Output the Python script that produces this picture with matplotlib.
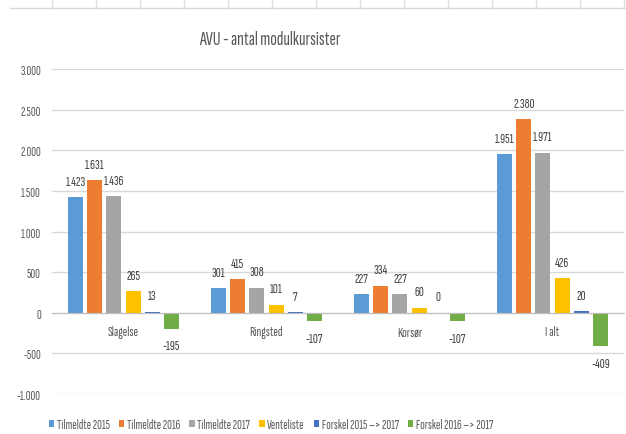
import matplotlib
matplotlib.use("Agg")
import matplotlib.pyplot as plt
from matplotlib.lines import Line2D
import numpy as np

categories = ["Slagelse", "Ringsted", "Korsør", "I alt"]
series_names = ["Tilmeldte 2015", "Tilmeldte 2016", "Tilmeldte 2017",
                "Venteliste", "Forskel 2015 –> 2017", "Forskel 2016 –> 2017"]
tilmeldte_2015 = [1423, 301, 227, 1951]
tilmeldte_2016 = [1631, 415, 334, 2380]
tilmeldte_2017 = [1436, 308, 227, 1971]
venteliste = [265, 101, 60, 426]
forskel_15_17 = [13, 7, 0, 20]
forskel_16_17 = [-195, -107, -107, -409]
yticks = [-1000, -500, 0, 500, 1000, 1500, 2000, 2500, 3000]

colors = ["#5B9BD5", "#ED7D31", "#A5A5A5", "#FFC000", "#4472C4", "#70AD47"]
series = [tilmeldte_2015, tilmeldte_2016, tilmeldte_2017,
          venteliste, forskel_15_17, forskel_16_17]

plt.rcParams["font.family"] = ["Sofia Sans Extra Condensed", "DejaVu Sans"]
plt.rcParams["font.weight"] = "medium"
text_col = "#595959"


def dk(v):
    # danish thousands separator
    return f"{v:,}".replace(",", ".")


fig = plt.figure(figsize=(6.26, 4.35), dpi=100)
ax = fig.add_axes([52 / 626, 1 - 395 / 435, 572 / 626, 325 / 435])

x = np.arange(len(categories))
step = 0.134
for j, (vals, name, col) in enumerate(zip(series, series_names, colors)):
    pos = x + (j - 2.5) * step
    ax.bar(pos, vals, width=0.105, color=col, label=name, zorder=3)
    for px, v in zip(pos, vals):
        off = 11.5 if v >= 0 else -12.5
        ax.annotate(dk(v), (px, v), xytext=(0, off),
                    textcoords="offset points", ha="center", va="center",
                    fontsize=10, color="#404040")

ax.set_xlim(-0.5, len(categories) - 0.5)
ax.set_ylim(-1000, 3000)
ax.set_yticks(yticks)
ax.set_yticklabels([dk(t) for t in yticks])
ax.grid(axis="y", color="#D9D9D9", linewidth=1, zorder=0)
for s in ["top", "right", "left"]:
    ax.spines[s].set_visible(False)
ax.spines["bottom"].set_position(("data", 0))
ax.spines["bottom"].set_color("#BFBFBF")
ax.spines["bottom"].set_zorder(4)
ax.set_xticks(x)
ax.set_xticklabels(categories)
ax.tick_params(axis="x", length=0, pad=9, labelsize=10, labelcolor=text_col)
ax.tick_params(axis="y", length=0, pad=8, labelsize=9.5, labelcolor=text_col)

fig.text(270 / 626, 1 - 40 / 435, "AVU - antal modulkursister",
         ha="center", va="center", fontsize=14, fontweight="semibold", color=text_col)

fig.legend(loc="center", bbox_to_anchor=(271 / 626, 1 - 426 / 435), ncol=6,
           frameon=False, fontsize=9.5, handlelength=0.4, handleheight=0.4,
           handletextpad=0.2, columnspacing=0.7, labelcolor=text_col,
           borderaxespad=0, borderpad=0)

# spreadsheet cell borders at the top
fig.add_artist(Line2D([10 / 626, 1], [1 - 9 / 435] * 2, color="#D9D9D9", lw=1))
for cx in range(52, 626, 44):
    fig.add_artist(Line2D([cx / 626] * 2, [1, 1 - 9 / 435], color="#E0E0E0", lw=1))

fig.savefig("out.png", dpi=100, facecolor="white")
